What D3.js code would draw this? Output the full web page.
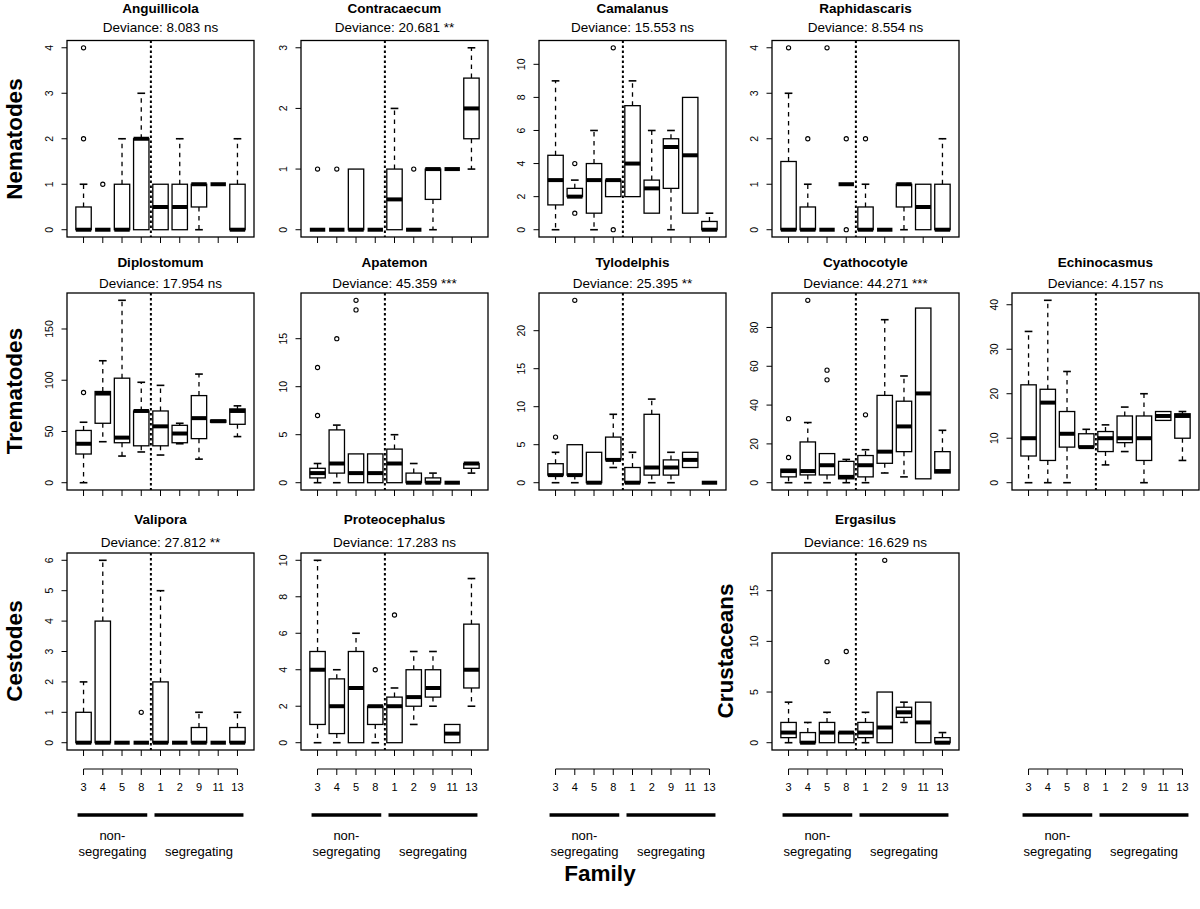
<!DOCTYPE html>
<html><head><meta charset="utf-8">
<script src="https://cdn.jsdelivr.net/npm/d3@7"></script>
<style>
body{margin:0;background:#fff}
svg{display:block}
text{font-family:"Liberation Sans",Arial,Helvetica,sans-serif;fill:#000}
</style>
</head><body>
<svg id="chart" width="1200" height="909"></svg>
<script>
// ---------------- DATA ----------------
const families = ["3","4","5","8","1","2","9","11","13"];
const groupNames = [["non-","segregating"],["segregating"]];
const groupRanges = [[0,3],[4,8]];
const rowLabels = ["Nematodes","Trematodes","Cestodes","Crustaceans"];

// each box: [lower whisker, Q1, median, Q3, upper whisker]
const anguillicolaBoxes = [[0,0,0,0.5,1],[0,0,0,0,0],[0,0,0,1,2],[0,0,2,2,3],[0,0,0.5,1,1],[0,0,0.5,1,2],[0,0.5,1,1,1],[1,1,1,1,1],[0,0,0,1,2]];
const anguillicolaOut = [[2,4],[1],[],[],[],[],[],[],[]];
const contracaecumBoxes = [[0,0,0,0,0],[0,0,0,0,0],[0,0,0,1,1],[0,0,0,0,0],[0,0,0.5,1,2],[0,0,0,0,0],[0,0.5,1,1,1],[1,1,1,1,1],[1,1.5,2,2.5,3]];
const contracaecumOut = [[1],[1],[],[],[],[1],[],[],[]];
const camalanusBoxes = [[0,1.5,3,4.5,9],[2,2,2,2.5,3],[0,1,3,4,6],[2,2,3,3,3],[2,2,4,7.5,9],[1,1,2.5,3,6],[0,2.5,5,5.5,6],[1,1,4.5,8,8],[0,0,0,0.5,1]];
const camalanusOut = [[],[1,4],[],[0,11],[],[],[],[],[]];
const raphidascarisBoxes = [[0,0,0,1.5,3],[0,0,0,0.5,1],[0,0,0,0,0],[1,1,1,1,1],[0,0,0,0.5,1],[0,0,0,0,0],[0,0.5,1,1,1],[0,0,0.5,1,1],[0,0,0,1,2]];
const raphidascarisOut = [[4],[2],[4],[0,2],[2],[],[],[],[]];
const diplostomumBoxes = [[0,28,38,51,59],[40,58,87,89,119],[26,39,44,102,178],[30,36,70,70,98],[27,36,55,70,95],[38,39,48,56,58],[23,43,63,85,106],[59,59,60,61,61],[45,57,70,72,75]];
const diplostomumOut = [[88],[],[],[],[],[],[],[],[]];
const apatemonBoxes = [[0,0.5,1,1.5,2],[0,1,2,5.5,6],[0,0,1,3,3],[0,0,1,3,3],[0,0,2,3.5,5],[0,0,0,1,2],[0,0,0,0.5,1],[0,0,0,0,0],[1,1.5,2,2,2]];
const apatemonOut = [[7,12],[15],[18,19],[],[],[],[],[],[]];
const tylodelphisBoxes = [[0,1,1,2.5,4],[0,1,1,5,5],[0,0,0,4,4],[2,3,3,6,9],[0,0,0,2,4],[0,1,2,9,11],[0,1,2,3,4],[2,2,3,4,4],[0,0,0,0,0]];
const tylodelphisOut = [[6],[24],[],[],[],[],[],[],[]];
const cyathocotyleBoxes = [[0,3,6,7,7],[0,4,6,21,31],[0,4,9,15,15],[0,2,3,11,12],[0,3,9,14,17],[5,10,16,45,84],[3,16,29,42,55],[2,2,46,90,90],[5,5,6,16,27]];
const cyathocotyleOut = [[13,33],[94],[53,58],[],[35],[],[],[],[]];
const echinocasmusBoxes = [[0,6,10,22,34],[0,5,18,21,41],[0,8,11,16,25],[8,8,8,11,12],[4,7,10,11.5,13],[7,9,10,15,17],[0,5,10,15,20],[14,14,15,16,16],[5,10,15,15.5,16]];
const echinocasmusOut = [[],[],[],[],[],[],[],[],[]];
const viliporaBoxes = [[0,0,0,1,2],[0,0,0,4,6],[0,0,0,0,0],[0,0,0,0,0],[0,0,0,2,5],[0,0,0,0,0],[0,0,0,0.5,1],[0,0,0,0,0],[0,0,0,0.5,1]];
const viliporaOut = [[],[],[],[1],[],[],[],[],[]];
const proteocephalusBoxes = [[0,1,4,5,10],[0,0.5,2,3.5,4],[0,0,3,5,6],[0,1,2,2,2],[0,0,2,2.5,3],[1,2,2.5,4,5],[2,2.5,3,4,5],[0,0,0.5,1,1],[2,3,4,6.5,9]];
const proteocephalusOut = [[],[],[],[4],[7],[],[],[],[]];
const ergasilusBoxes = [[0,0.5,1,2,4],[0,0,0,1,2],[0,0,1,2,3],[0,0,1,1,1],[0,0.5,1,2,3],[0,0,1.5,5,5],[2,2.5,3,3.5,4],[0,0,2,4,4],[0,0,0,0.5,1]];
const ergasilusOut = [[],[],[8],[9],[],[18],[],[],[]];

const panelNames = ["Anguillicola","Contracaecum","Camalanus","Raphidascaris","Diplostomum","Apatemon","Tylodelphis","Cyathocotyle","Echinocasmus","Valipora","Proteocephalus","Ergasilus"];
const devianceLabels = ["Deviance: 8.083 ns","Deviance: 20.681 **","Deviance: 15.553 ns","Deviance: 8.554 ns","Deviance: 17.954 ns","Deviance: 45.359 ***","Deviance: 25.395 **","Deviance: 44.271 ***","Deviance: 4.157 ns","Deviance: 27.812 **","Deviance: 17.283 ns","Deviance: 16.629 ns"];
const yTicks = [[0,1,2,3,4],[0,1,2,3],[0,2,4,6,8,10],[0,1,2,3,4],[0,50,100,150],[0,5,10,15],[0,5,10,15,20],[0,20,40,60,80],[0,10,20,30,40],[0,1,2,3,4,5,6],[0,2,4,6,8,10],[0,5,10,15]];
const boxData = [anguillicolaBoxes,contracaecumBoxes,camalanusBoxes,raphidascarisBoxes,diplostomumBoxes,apatemonBoxes,tylodelphisBoxes,cyathocotyleBoxes,echinocasmusBoxes,viliporaBoxes,proteocephalusBoxes,ergasilusBoxes];
const outData = [anguillicolaOut,contracaecumOut,camalanusOut,raphidascarisOut,diplostomumOut,apatemonOut,tylodelphisOut,cyathocotyleOut,echinocasmusOut,viliporaOut,proteocephalusOut,ergasilusOut];

// ---------------- LAYOUT ----------------
const panelCell = [[0,0],[0,1],[0,2],[0,3],[1,0],[1,1],[1,2],[1,3],[1,4],[2,0],[2,1],[2,3]]; // [row,col]
const colX = [[67,254],[301,488],[539,726],[772,959],[1012,1199]];
const rowY = [[40.5,237],[293,490],[553,750]];
const titleBase = [13,267,524];
const devBase = [32,288,547];
const rowLabelPos = [[22,139],[22,391],[22,651],[733,651]];

const svg = d3.select("#chart");

function drawPanel(i){
  const [r,c] = panelCell[i];
  const [x0,x1] = colX[c], [yTop,yBot] = rowY[r];
  const boxes = boxData[i], outs = outData[i];
  const allVals = boxes.flat().concat(outs.flat());
  const lo = d3.min(allVals), hi = d3.max(allVals), pad = (hi-lo)*0.04;
  const n = families.length, xpad = n*0.04;
  const x = d3.scaleLinear().domain([0.5-xpad, n+0.5+xpad]).range([x0,x1]);
  const y = d3.scaleLinear().domain([lo-pad, hi+pad]).range([yBot,yTop]);
  const g = svg.append("g");
  const cx = (x0+x1)/2;
  g.append("text").attr("x",cx).attr("y",titleBase[r]).attr("text-anchor","middle")
    .attr("font-weight","bold").attr("font-size",13.5).text(panelNames[i]);
  g.append("text").attr("x",cx).attr("y",devBase[r]).attr("text-anchor","middle")
    .attr("font-size",13.5).text(devianceLabels[i]);

  const ya = g.append("g");
  yTicks[i].forEach(t=>{
    ya.append("line").attr("x1",x0-5.5).attr("x2",x0).attr("y1",y(t)).attr("y2",y(t)).attr("stroke","#000").attr("stroke-width",1);
    ya.append("text").attr("transform",`translate(${x0-14},${y(t)}) rotate(-90)`)
      .attr("text-anchor","middle").attr("font-size",10.5).attr("fill","#333").text(t);
  });
  families.forEach((f,k)=>{
    g.append("line").attr("x1",x(k+1)).attr("x2",x(k+1)).attr("y1",yBot).attr("y2",yBot+6).attr("stroke","#000");
  });

  const bw = 0.8, half = bw/2, staple = bw/4;
  boxes.forEach((b,k)=>{
    const xc = k+1;
    const [wl,q1,md,q3,wh] = b;
    const gb = g.append("g");
    if (wh>q3){
      gb.append("line").attr("x1",x(xc)).attr("x2",x(xc)).attr("y1",y(q3)).attr("y2",y(wh))
        .attr("stroke","#000").attr("stroke-width",1.3).attr("stroke-dasharray","4.5,4.5");
      gb.append("line").attr("x1",x(xc-staple)).attr("x2",x(xc+staple)).attr("y1",y(wh)).attr("y2",y(wh))
        .attr("stroke","#000").attr("stroke-width",1.6);
    }
    if (wl<q1){
      gb.append("line").attr("x1",x(xc)).attr("x2",x(xc)).attr("y1",y(q1)).attr("y2",y(wl))
        .attr("stroke","#000").attr("stroke-width",1.3).attr("stroke-dasharray","4.5,4.5");
      gb.append("line").attr("x1",x(xc-staple)).attr("x2",x(xc+staple)).attr("y1",y(wl)).attr("y2",y(wl))
        .attr("stroke","#000").attr("stroke-width",1.6);
    }
    gb.append("rect").attr("x",x(xc-half)).attr("width",x(xc+half)-x(xc-half))
      .attr("y",y(q3)).attr("height",Math.max(0,y(q1)-y(q3)))
      .attr("fill","none").attr("stroke","#000").attr("stroke-width",1.3);
    gb.append("line").attr("x1",x(xc-half)).attr("x2",x(xc+half)).attr("y1",y(md)).attr("y2",y(md))
      .attr("stroke","#000").attr("stroke-width",4);
    outs[k].forEach(o=>{
      gb.append("circle").attr("cx",x(xc)).attr("cy",y(o)).attr("r",2.1).attr("fill","none").attr("stroke","#000").attr("stroke-width",1.1);
    });
  });
  g.append("line").attr("x1",x(4.5)).attr("x2",x(4.5)).attr("y1",yTop).attr("y2",yBot)
    .attr("stroke","#000").attr("stroke-width",2).attr("stroke-dasharray","2.5,2.5");
  g.append("rect").attr("x",x0).attr("y",yTop).attr("width",x1-x0).attr("height",yBot-yTop)
    .attr("fill","none").attr("stroke","#000").attr("stroke-width",1.3);
}
panelNames.forEach((_,i)=>drawPanel(i));

rowLabels.forEach((t,i)=>{
  svg.append("text").attr("transform",`translate(${rowLabelPos[i][0]},${rowLabelPos[i][1]}) rotate(-90)`)
    .attr("text-anchor","middle").attr("font-weight","bold").attr("font-size",22.5).text(t);
});

const axisY = 769, barY = 815;
colX.forEach(([x0,x1])=>{
  const n = families.length, xpad = n*0.04;
  const x = d3.scaleLinear().domain([0.5-xpad, n+0.5+xpad]).range([x0,x1]);
  const g = svg.append("g");
  g.append("line").attr("x1",x(1)).attr("x2",x(n)).attr("y1",axisY).attr("y2",axisY).attr("stroke","#000");
  families.forEach((f,k)=>{
    g.append("line").attr("x1",x(k+1)).attr("x2",x(k+1)).attr("y1",axisY).attr("y2",axisY+6).attr("stroke","#000");
    g.append("text").attr("x",x(k+1)).attr("y",axisY+22).attr("text-anchor","middle").attr("font-size",11).attr("fill","#222").text(f);
  });
  groupRanges.forEach(([a,b],gi)=>{
    g.append("line").attr("x1",x(a+1)-6).attr("x2",x(b+1)+6).attr("y1",barY).attr("y2",barY)
      .attr("stroke","#000").attr("stroke-width",3.5);
    const lines = groupNames[gi];
    const cxm = (x(a+1)+x(b+1))/2;
    lines.forEach((ln,li)=>{
      const yy = lines.length===2 ? 840+li*15.5 : 855.5;
      g.append("text").attr("x",cxm).attr("y",yy).attr("text-anchor","middle").attr("font-size",13).text(ln);
    });
  });
});

svg.append("text").attr("x",600).attr("y",881).attr("text-anchor","middle").attr("font-weight","bold").attr("font-size",22.5).text("Family");
</script>
</body></html>
